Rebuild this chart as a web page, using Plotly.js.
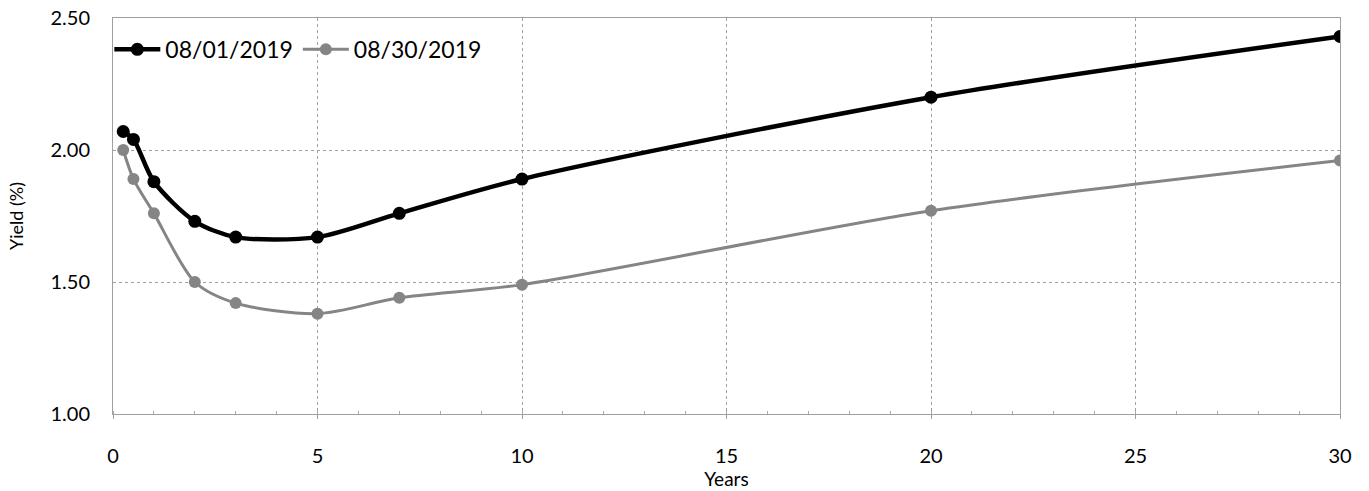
<!DOCTYPE html>
<html>
<head>
<meta charset="utf-8">
<script src="https://cdn.plot.ly/plotly-3.0.1.min.js"></script>
<style>html,body{margin:0;padding:0;background:#fff;}#chart{width:1369px;height:491px;}</style>
</head>
<body>
<div id="chart"></div>
<script>
const maturities = [0.25, 0.5, 1, 2, 3, 5, 7, 10, 20, 30];
const yieldsAug01 = [2.07, 2.04, 1.88, 1.73, 1.67, 1.67, 1.76, 1.89, 2.20, 2.43];
const yieldsAug30 = [2.00, 1.89, 1.76, 1.50, 1.42, 1.38, 1.44, 1.49, 1.77, 1.96];
const seriesNames = ["08/01/2019", "08/30/2019"];
const xTicks = [0, 5, 10, 15, 20, 25, 30];
const yTicks = [1.00, 1.50, 2.00, 2.50];
const yTickLabels = ["1.00", "1.50", "2.00", "2.50"];

const FONT = "Lato, 'DejaVu Sans', sans-serif";

const traces = [
  {
    x: maturities, y: yieldsAug01, name: seriesNames[0],
    type: "scatter", mode: "lines+markers",
    line: {color: "#000000", width: 4.5, shape: "spline", smoothing: 0.8},
    marker: {color: "#000000", size: 13}
  },
  {
    x: maturities, y: yieldsAug30, name: seriesNames[1],
    type: "scatter", mode: "lines+markers",
    line: {color: "#858585", width: 3, shape: "spline", smoothing: 0.8},
    marker: {color: "#858585", size: 12}
  }
];

const layout = {
  width: 1369, height: 491,
  margin: {l: 113, r: 29, t: 18, b: 77},
  paper_bgcolor: "#ffffff", plot_bgcolor: "#ffffff",
  font: {family: FONT, color: "#000", size: 20},
  showlegend: true,
  legend: {
    orientation: "h", x: -0.003, y: 0.975, xanchor: "left", yanchor: "top",
    bgcolor: "rgba(0,0,0,0)", font: {family: FONT, size: 23, color: "#000"},
    itemwidth: 46, tracegroupgap: 0
  },
  xaxis: {
    range: [0, 30], tickvals: xTicks, ticktext: xTicks.map(String),
    showgrid: true, gridcolor: "#a0a0a0", griddash: "dot", gridwidth: 1,
    showline: true, linecolor: "#a0a0a0", linewidth: 1, mirror: true,
    zeroline: false, ticks: "outside", ticklen: 4, tickcolor: "#a0a0a0",
    ticklabelstandoff: 20, automargin: false,
    minor: {dtick: 1, ticks: "inside", ticklen: 3, tickcolor: "#aaaaaa", showgrid: false},
    title: {text: "Years", font: {family: FONT, size: 19}, standoff: 4}
  },
  yaxis: {
    range: [1.0, 2.5], tickvals: yTicks, ticktext: yTickLabels,
    showgrid: true, gridcolor: "#a0a0a0", griddash: "dot", gridwidth: 1,
    showline: true, linecolor: "#a0a0a0", linewidth: 1, mirror: true,
    zeroline: false, ticks: "", ticklabelstandoff: 18, automargin: false,
    title: {text: "Yield (%)", font: {family: FONT, size: 18}, standoff: 22}
  }
};

Plotly.newPlot("chart", traces, layout, {displayModeBar: false, staticPlot: true});
</script>
</body>
</html>
